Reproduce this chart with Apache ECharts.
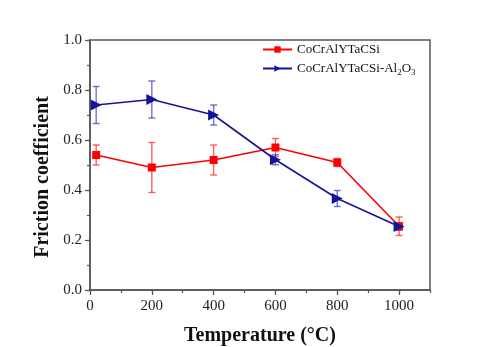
<!DOCTYPE html>
<html>
<head>
<meta charset="utf-8">
<script src="https://cdn.jsdelivr.net/npm/echarts@6/dist/echarts.min.js"></script>
<style>
  html, body { margin: 0; padding: 0; background: #fff; }
  #chart { width: 500px; height: 347px; }
</style>
</head>
<body>
<div id="chart"></div>
<script>
// Test temperatures (°C)
const temperatures = [20, 200, 400, 600, 800, 1000];

// CoCrAlYTaCSi coating: mean friction coefficient and standard deviation
const baseMean = [0.54, 0.49, 0.52, 0.57, 0.51, 0.255];
const baseErr  = [0.04, 0.10, 0.06, 0.036, 0.016, 0.037];

// CoCrAlYTaCSi-Al2O3 coating: mean friction coefficient and standard deviation
const compMean = [0.74, 0.762, 0.70, 0.521, 0.366, 0.254];
const compErr  = [0.074, 0.074, 0.04, 0.02, 0.032, 0.015];

// Axis tick values
const xMajorTicks = [0, 200, 400, 600, 800, 1000];
const yMajorTicks = [0, 0.2, 0.4, 0.6, 0.8, 1.0];

const baseName = 'CoCrAlYTaCSi';
const compName = 'CoCrAlYTaCSi-Al2O3';

const serif = '"Liberation Serif", "Times New Roman", serif';
const axisColor = '#555';
const red = '#ff0000';
const navy = '#14149a';

function pairs(means) {
  return temperatures.map((t, i) => [t, means[i]]);
}
function errTriples(means, errs) {
  return temperatures.map((t, i) => [t, means[i], errs[i]]);
}

function errorBarRenderer(color) {
  return function (params, api) {
    const x = api.value(0), y = api.value(1), e = api.value(2);
    const hi = api.coord([x, y + e]);
    const lo = api.coord([x, y - e]);
    const cap = 3.5;
    const style = { stroke: color, lineWidth: 1.4 };
    return {
      type: 'group',
      children: [
        { type: 'line', shape: { x1: hi[0], y1: hi[1], x2: lo[0], y2: lo[1] }, style },
        { type: 'line', shape: { x1: hi[0] - cap, y1: hi[1], x2: hi[0] + cap, y2: hi[1] }, style },
        { type: 'line', shape: { x1: lo[0] - cap, y1: lo[1], x2: lo[0] + cap, y2: lo[1] }, style }
      ]
    };
  };
}

const chart = echarts.init(document.getElementById('chart'), null, { renderer: 'canvas' });

const option = {
  backgroundColor: '#fff',
  animation: false,
  grid: {
    left: 90, right: 70, top: 40, bottom: 57,
    outerBoundsMode: 'none', containLabel: false,
    show: true, borderColor: axisColor, borderWidth: 1.5, backgroundColor: 'transparent'
  },
  legend: {
    orient: 'vertical',
    left: 257, top: 38,
    itemWidth: 29, itemHeight: 8, itemGap: 6,
    data: [baseName, compName],
    textStyle: {
      fontFamily: serif, fontSize: 13, color: '#111',
      rich: {
        n: { fontFamily: serif, fontSize: 13, color: '#111' },
        s: { fontFamily: serif, fontSize: 9, color: '#111', padding: [8, 0, 0, 0] }
      }
    },
    formatter: function (name) {
      if (name === compName) return '{n|CoCrAlYTaCSi-Al}{s|2}{n|O}{s|3}';
      return '{n|' + name + '}';
    }
  },
  xAxis: [
    {
      type: 'value', min: 0, max: 1100, interval: 100,
      axisLine: { show: true, lineStyle: { color: axisColor, width: 1.5 } },
      axisTick: { show: true, length: 3, lineStyle: { color: axisColor, width: 1.2 } },
      axisLabel: { show: false },
      splitLine: { show: false }
    },
    {
      type: 'value', min: 0, max: 1100, position: 'bottom',
      axisLine: { show: false },
      axisTick: { show: true, length: 5, customValues: xMajorTicks, lineStyle: { color: axisColor, width: 1.2 } },
      axisLabel: {
        show: true, customValues: xMajorTicks, margin: 9,
        fontFamily: serif, fontSize: 15, color: '#222',
        formatter: v => String(v)
      },
      splitLine: { show: false },
      name: 'Temperature (°C)',
      nameLocation: 'middle', nameGap: 36,
      nameTextStyle: { fontFamily: serif, fontSize: 20, fontWeight: 'bold', color: '#111' }
    }
  ],
  yAxis: [
    {
      type: 'value', min: 0, max: 1, interval: 0.1,
      axisLine: { show: true, lineStyle: { color: axisColor, width: 1.5 } },
      axisTick: { show: true, length: 3, lineStyle: { color: axisColor, width: 1.2 } },
      axisLabel: { show: false },
      splitLine: { show: false }
    },
    {
      type: 'value', min: 0, max: 1, position: 'left',
      axisLine: { show: false },
      axisTick: { show: true, length: 5, customValues: yMajorTicks, lineStyle: { color: axisColor, width: 1.2 } },
      axisLabel: {
        show: true, customValues: yMajorTicks, margin: 8,
        fontFamily: serif, fontSize: 15, color: '#222',
        formatter: v => v.toFixed(1)
      },
      splitLine: { show: false },
      name: 'Friction coefficient',
      nameLocation: 'middle', nameGap: 36,
      nameTextStyle: { fontFamily: serif, fontSize: 20, fontWeight: 'bold', color: '#111', padding: [0, 24, 0, 0] }
    }
  ],
  series: [
    {
      type: 'custom', name: 'baseErr', xAxisIndex: 0, yAxisIndex: 0, z: 1,
      renderItem: errorBarRenderer('rgba(255,30,30,0.7)'),
      data: errTriples(baseMean, baseErr), silent: true
    },
    {
      type: 'custom', name: 'compErr', xAxisIndex: 0, yAxisIndex: 0, z: 1,
      renderItem: errorBarRenderer('rgba(40,40,190,0.65)'),
      data: errTriples(compMean, compErr), silent: true
    },
    {
      type: 'line', name: baseName, xAxisIndex: 0, yAxisIndex: 0, z: 3,
      data: pairs(baseMean),
      symbol: 'rect', symbolSize: 8,
      lineStyle: { color: red, width: 1.6 },
      itemStyle: { color: red }
    },
    {
      type: 'line', name: compName, xAxisIndex: 0, yAxisIndex: 0, z: 4,
      data: pairs(compMean),
      symbol: 'triangle', symbolSize: 11, symbolRotate: -90,
      lineStyle: { color: navy, width: 1.6 },
      itemStyle: { color: navy }
    }
  ]
};

chart.setOption(option);
</script>
</body>
</html>
